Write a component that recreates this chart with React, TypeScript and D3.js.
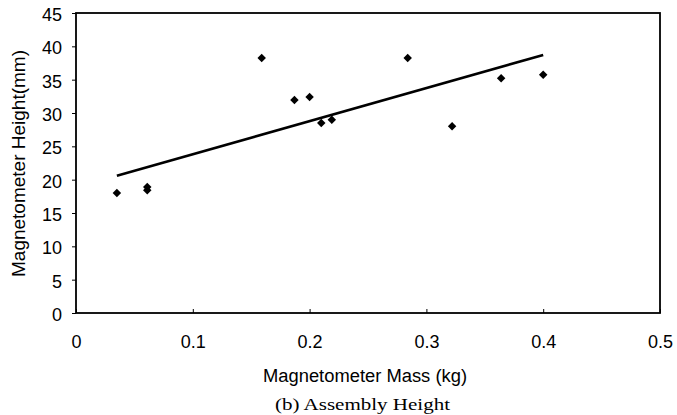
import React, { useEffect, useRef } from "react";
import * as d3 from "d3";

const massKg = [0.035, 0.061, 0.061, 0.159, 0.187, 0.2, 0.21, 0.219, 0.284, 0.322, 0.364, 0.4];
const heightMm = [18.0, 18.9, 18.4, 38.25, 31.95, 32.4, 28.5, 29.0, 38.25, 28.0, 35.2, 35.75];
const trendX = [0.035, 0.4];
const trendY = [20.6, 38.7];
const xTicks = [0, 0.1, 0.2, 0.3, 0.4, 0.5];
const yTicks = [0, 5, 10, 15, 20, 25, 30, 35, 40, 45];

const W = 677;
const H = 415;
const left = 76, right = 660, top = 13, bottom = 313;

export default function App() {
  const ref = useRef<SVGSVGElement>(null);

  useEffect(() => {
    const svg = d3.select(ref.current);
    svg.selectAll("*").remove();

    const x = d3.scaleLinear().domain([0, 0.5]).range([left, right]);
    const y = d3.scaleLinear().domain([0, 45]).range([bottom, top]);
    const font = "Arial, 'Liberation Sans', sans-serif";

    // frame
    svg.append("rect")
      .attr("x", left).attr("y", top)
      .attr("width", right - left).attr("height", bottom - top)
      .attr("fill", "none").attr("stroke", "#000").attr("stroke-width", 1.8);

    // y axis: ticks outside
    const yAxis = svg.append("g")
      .attr("transform", `translate(${left},0)`)
      .call(d3.axisLeft(y).tickValues(yTicks).tickSize(4).tickPadding(10).tickFormat(d3.format("d")));
    yAxis.select(".domain").remove();
    yAxis.selectAll("line").attr("stroke", "#000");
    yAxis.selectAll("text").attr("font-family", font).attr("font-size", 18).attr("fill", "#000").attr("dy", "0.42em");

    // x axis: ticks inside
    const xAxis = svg.append("g")
      .attr("transform", `translate(0,${bottom})`)
      .call(d3.axisBottom(x).tickValues(xTicks).tickSizeInner(-4).tickSizeOuter(0).tickPadding(22)
        .tickFormat((d: any) => (d === 0 ? "0" : d3.format(".1f")(d))));
    xAxis.select(".domain").remove();
    xAxis.selectAll("line").attr("stroke", "#000");
    xAxis.selectAll("text").attr("font-family", font).attr("font-size", 18).attr("fill", "#000");

    // trend line
    const line = d3.line<number>()
      .x((d) => x(d))
      .y((_, i) => y(trendY[i]));
    svg.append("path")
      .attr("d", line(trendX))
      .attr("fill", "none").attr("stroke", "#000").attr("stroke-width", 2.6);

    // markers
    const diamond = d3.symbol().type(d3.symbolSquare).size(36);
    svg.selectAll("path.pt")
      .data(massKg)
      .enter()
      .append("path")
      .attr("class", "pt")
      .attr("d", diamond)
      .attr("transform", (d, i) => `translate(${x(d)},${y(heightMm[i])}) rotate(45)`)
      .attr("fill", "#000");

    // titles
    svg.append("text")
      .attr("x", 263).attr("y", 382)
      .attr("textLength", 204).attr("lengthAdjust", "spacingAndGlyphs")
      .attr("font-family", font).attr("font-size", 18)
      .text("Magnetometer Mass (kg)");

    svg.append("text")
      .attr("transform", `translate(25,277) rotate(-90)`)
      .attr("textLength", 227).attr("lengthAdjust", "spacingAndGlyphs")
      .attr("font-family", font).attr("font-size", 18)
      .text("Magnetometer Height(mm)");

    svg.append("text")
      .attr("x", 275).attr("y", 410)
      .attr("textLength", 175).attr("lengthAdjust", "spacingAndGlyphs")
      .attr("font-family", "'Liberation Serif', 'DejaVu Serif', serif").attr("font-size", 17)
      .text("(b) Assembly Height");
  }, []);

  return (
    <svg ref={ref} width={W} height={H}
      style={{ position: "absolute", left: 0, top: 0, background: "#fff" }} />
  );
}
